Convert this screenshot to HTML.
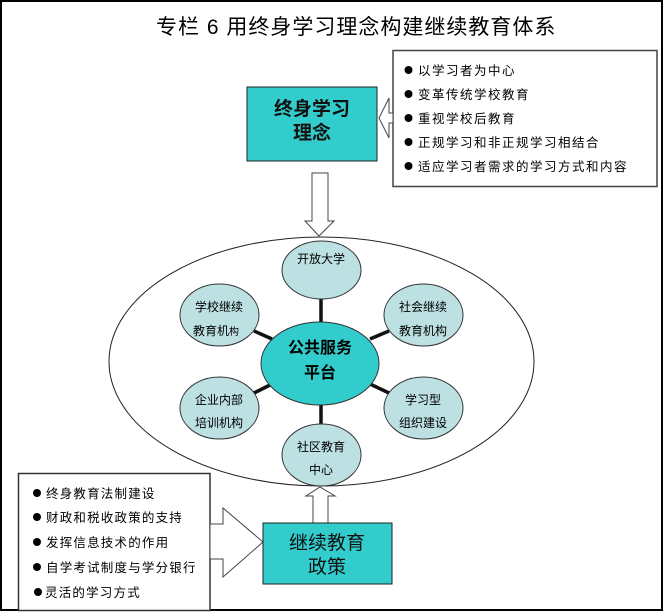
<!DOCTYPE html>
<html><head><meta charset="utf-8"><style>
html,body{margin:0;padding:0;background:#fff;}
svg{display:block;}
.t{font-family:"Liberation Sans","Noto Sans CJK SC",sans-serif;}
</style></head><body>
<svg width="667" height="612" viewBox="0 0 667 612" xmlns="http://www.w3.org/2000/svg">
<rect x="1" y="1" width="661" height="609" fill="#fff" stroke="#000" stroke-width="2"/>
<text class="t" x="156" y="34" font-size="21" letter-spacing="1" fill="#000">专栏 6 用终身学习理念构建继续教育体系</text>

<!-- right top list box -->
<rect x="393" y="50.5" width="264" height="136" fill="#fff" stroke="#444" stroke-width="1.5"/>
<g class="t" font-size="12.5" letter-spacing="1.5" fill="#000">
<circle cx="408.5" cy="70" r="4" fill="#000"/><text x="418" y="75">以学习者为中心</text>
<circle cx="408.5" cy="94" r="4" fill="#000"/><text x="418" y="99">变革传统学校教育</text>
<circle cx="408.5" cy="118" r="4" fill="#000"/><text x="418" y="123">重视学校后教育</text>
<circle cx="408.5" cy="142" r="4" fill="#000"/><text x="418" y="147">正规学习和非正规学习相结合</text>
<circle cx="408.5" cy="166" r="4" fill="#000"/><text x="418" y="171">适应学习者需求的学习方式和内容</text>
</g>

<!-- left arrow into top teal box -->
<polygon points="393,113 389,113 389,98 379,118 389,138 389,123 393,123" fill="#fff" stroke="#444" stroke-width="1"/>

<!-- top teal box -->
<rect x="247" y="87" width="130" height="74" fill="#33CCCC" stroke="#222" stroke-width="1"/>
<text class="t" x="312" y="115" font-size="19" font-weight="bold" text-anchor="middle" fill="#111">终身学习</text>
<text class="t" x="312" y="139" font-size="19" font-weight="bold" text-anchor="middle" fill="#111">理念</text>

<!-- down arrow -->
<polygon points="312,173 328,173 328,221 334,221 319,236 305,221 312,221" fill="#fff" stroke="#444" stroke-width="1"/>

<!-- big ellipse -->
<ellipse cx="321.5" cy="361.5" rx="212.5" ry="124.5" fill="#fff" stroke="#222" stroke-width="1"/>

<!-- connectors -->
<g stroke="#111" stroke-width="3.5">
<line x1="321" y1="298" x2="321" y2="324"/>
<line x1="321" y1="403" x2="321" y2="426"/>
<line x1="254" y1="331" x2="272" y2="339"/>
<line x1="389" y1="331" x2="370" y2="339"/>
<line x1="254" y1="393" x2="272" y2="384"/>
<line x1="389" y1="393" x2="370" y2="384"/>
</g>

<!-- small circles -->
<g fill="#BDE0E3" stroke="#333" stroke-width="1">
<ellipse cx="321.5" cy="270" rx="39.5" ry="29"/>
<ellipse cx="219.5" cy="315" rx="39.5" ry="31"/>
<ellipse cx="423.5" cy="315" rx="39.5" ry="31"/>
<ellipse cx="219.5" cy="408" rx="39.5" ry="31"/>
<ellipse cx="423.5" cy="408" rx="39.5" ry="31"/>
<ellipse cx="321.5" cy="455" rx="39.5" ry="31"/>
</g>
<g class="t" font-size="12" fill="#000" text-anchor="middle">
<text x="321" y="263">开放大学</text>
<text x="219" y="311">学校继续</text>
<text x="216" y="335">教育机<tspan font-size="10">构</tspan></text>
<text x="423" y="311">社会继续</text>
<text x="423" y="335">教育机构</text>
<text x="219" y="404">企业内部</text>
<text x="219" y="427">培训机构</text>
<text x="423" y="404">学习型</text>
<text x="423" y="427">组织建设</text>
<text x="321" y="451">社区教育</text>
<text x="321" y="474">中心</text>
</g>

<!-- center circle -->
<ellipse cx="320" cy="363.5" rx="59" ry="41.5" fill="#33CCCC" stroke="#333" stroke-width="1"/>
<text class="t" x="320" y="353" font-size="16" font-weight="bold" text-anchor="middle" fill="#000">公共服务</text>
<text class="t" x="320" y="378" font-size="16" font-weight="bold" text-anchor="middle" fill="#000">平台</text>

<!-- bottom left list box -->
<rect x="18.5" y="473.5" width="191.5" height="137" fill="#fff" stroke="#333" stroke-width="1.5"/>
<g class="t" font-size="12.5" letter-spacing="1.2" fill="#000">
<circle cx="37" cy="493" r="4" fill="#000"/><text x="46" y="498">终身教育法制建设</text>
<circle cx="37" cy="517" r="4" fill="#000"/><text x="46" y="522">财政和税收政策的支持</text>
<circle cx="37" cy="542" r="4" fill="#000"/><text x="46" y="547">发挥信息技术的作用</text>
<circle cx="37" cy="567" r="4" fill="#000"/><text x="46" y="572">自学考试制度与学分银行</text>
<circle cx="38" cy="592" r="4" fill="#000"/><text x="45" y="597">灵活的学习方式</text>
</g>

<!-- right arrow into bottom teal box -->
<polygon points="210,524 223,524 223,508 263,542 223,577 223,559 210,559" fill="#fff" stroke="#444" stroke-width="1"/>

<!-- up arrow -->
<polygon points="313,523 313,496 306,496 320,487 335,496 328,496 328,523" fill="#fff" stroke="#444" stroke-width="1"/>

<!-- bottom teal box -->
<rect x="263" y="523" width="129" height="61" fill="#33CCCC" stroke="#222" stroke-width="1"/>
<text class="t" x="327" y="549" font-size="19" text-anchor="middle" fill="#111">继续教育</text>
<text class="t" x="327" y="573" font-size="19" text-anchor="middle" fill="#111">政策</text>
</svg>
</body></html>
